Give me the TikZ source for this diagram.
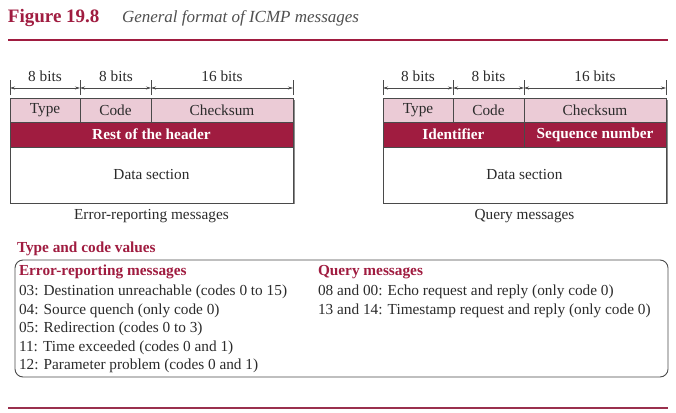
\documentclass[tikz,border=0pt]{standalone}
\usepackage{fontspec}
\setmainfont{Liberation Serif}
\usetikzlibrary{arrows.meta}
\definecolor{crim}{HTML}{A01C40}
\definecolor{pinkc}{HTML}{EBCBD6}
\definecolor{txt}{HTML}{2B2B2B}
\definecolor{edge}{HTML}{4A4A4A}
\definecolor{ttlgray}{HTML}{505050}
\newcommand{\bodyfont}{\fontsize{15.3}{18}\selectfont}
\begin{document}
\begin{tikzpicture}[x=1pt,y=-1pt,
  every node/.style={inner sep=0pt, outer sep=0pt, text=txt, font=\bodyfont},
  cell/.style={draw=edge, line width=0.8pt, fill=pinkc, minimum height=24pt},
  hcell/.style={draw=edge, line width=0.8pt, fill=crim, minimum height=25pt, text=white, font=\bodyfont\bfseries},
  dcell/.style={draw=edge, line width=0.8pt, fill=white, minimum height=56pt},
  shadowbox/.style={fill=black!45},
  dim/.style={draw=edge, line width=0.6pt, {Stealth[length=5pt,width=3pt]}-{Stealth[length=5pt,width=3pt]}},
  tick/.style={draw=edge, line width=0.6pt},
  bitlbl/.style={font=\bodyfont},
  caption/.style={font=\bodyfont},
  redhead/.style={text=crim, font=\bodyfont\bfseries, anchor=west},
  item/.style={anchor=west}
]
\useasboundingbox[fill=white] (0,0) rectangle (676,412);

% title
\node[anchor=base west, text=crim, font=\fontsize{19}{22}\selectfont\bfseries] (fig) at (8,23) {Figure 19.8};
\node[anchor=base west, text=ttlgray, font=\fontsize{17}{20}\selectfont\itshape] (ftitle) at (122,23) {General format of ICMP messages};
\draw[crim, line width=2.6pt] (8,40) -- (668,40);

% ---------- left packet ----------
\fill[shadowbox] (12,100) rectangle (295,204);
\node[cell, minimum width=70pt] (ltype) at (45,110) {Type};
\node[cell, minimum width=71pt] (lcode) at (115.5,110) {Code};
\node[cell, minimum width=142pt] (lcks) at (222,110) {Checksum};
\node[hcell, minimum width=283pt] (lrest) at (151.5,134.5) {Rest of the header};
\node[dcell, minimum width=283pt] (ldata) at (151.5,175) {Data section};
\node[caption] (lcap) at (151.5,216) {Error-reporting messages};

\coordinate (la) at (10,88);
\coordinate (lb) at (80,88);
\coordinate (lc) at (151,88);
\coordinate (ld) at (293,88);
\foreach \p in {la,lb,lc,ld} \draw[tick] ([yshift=-7pt]\p) -- ([yshift=8pt]\p);
\draw[dim] (la) -- (lb);
\draw[dim] (lb) -- (lc);
\draw[dim] (lc) -- (ld);
\node[bitlbl] (lb1) at (45,76) {8 bits};
\node[bitlbl] (lb2) at (116,76) {8 bits};
\node[bitlbl] (lb3) at (222,76) {16 bits};

% ---------- right packet ----------
\fill[shadowbox] (385,100) rectangle (668,204);
\node[cell, minimum width=70pt] (rtype) at (418,110) {Type};
\node[cell, minimum width=71pt] (rcode) at (488.5,110) {Code};
\node[cell, minimum width=142pt] (rcks) at (595,110) {Checksum};
\node[hcell, minimum width=141pt] (rid) at (453.5,134.5) {Identifier};
\node[hcell, minimum width=142pt] (rseq) at (595,134.5) {Sequence number};
\node[dcell, minimum width=283pt] (rdata) at (524.5,175) {Data section};
\node[caption] (rcap) at (524.5,216) {Query messages};

\coordinate (ra) at (383,88);
\coordinate (rb) at (453,88);
\coordinate (rc) at (524,88);
\coordinate (rd) at (666,88);
\foreach \p in {ra,rb,rc,rd} \draw[tick] ([yshift=-7pt]\p) -- ([yshift=8pt]\p);
\draw[dim] (ra) -- (rb);
\draw[dim] (rb) -- (rc);
\draw[dim] (rc) -- (rd);
\node[bitlbl] (rb1) at (418,76) {8 bits};
\node[bitlbl] (rb2) at (488.5,76) {8 bits};
\node[bitlbl] (rb3) at (595,76) {16 bits};

% ---------- type and code values ----------
\node[redhead] (tcv) at (17,249) {Type and code values};
\draw[edge, line width=0.9pt, rounded corners=8pt] (15,260) rectangle (668,377);

\node[redhead] (erh) at (19,272) {Error-reporting messages};
\node[item] (e1) at (19,292) {03: Destination unreachable (codes 0 to 15)};
\node[item] (e2) at (19,310.5) {04: Source quench (only code 0)};
\node[item] (e3) at (19,329) {05: Redirection (codes 0 to 3)};
\node[item] (e4) at (19,347.5) {11: Time exceeded (codes 0 and 1)};
\node[item] (e5) at (19,366) {12: Parameter problem (codes 0 and 1)};

\node[redhead] (qh) at (318,272) {Query messages};
\node[item] (q1) at (318,292) {08 and 00: Echo request and reply (only code 0)};
\node[item] (q2) at (318,310.5) {13 and 14: Timestamp request and reply (only code 0)};

\draw[crim!80!gray, line width=1.6pt] (8,408) -- (668,408);
\end{tikzpicture}
\end{document}
